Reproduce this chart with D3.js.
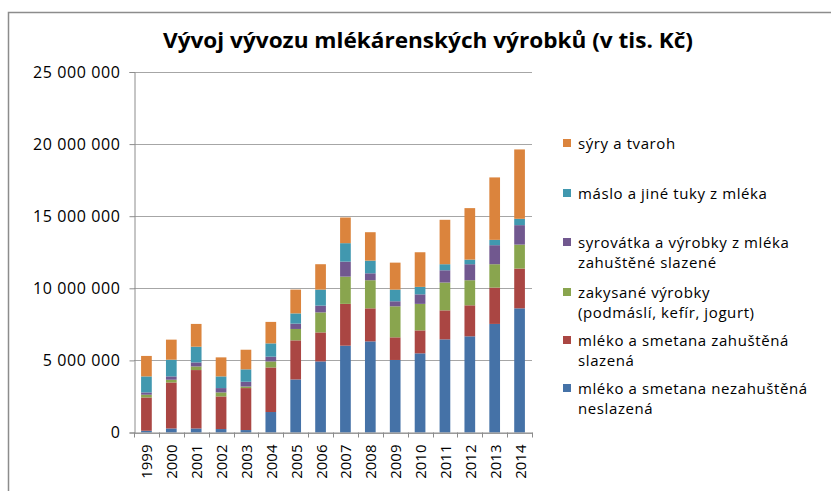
<!DOCTYPE html>
<html lang="cs">
<head>
<meta charset="UTF-8">
<title>Vývoj vývozu mlékárenských výrobků</title>
<script src="https://d3js.org/d3.v7.min.js"></script>
<style>
    * { margin: 0; padding: 0; }
    body { background: #fff; width: 831px; height: 491px; overflow: hidden; }
    svg text { font-family: "Open Sans", Arial, sans-serif; fill: #000; }
</style>
</head>
<body>
<svg id="chart" width="831" height="491"></svg>
<script>
// roky
const years = ["1999","2000","2001","2002","2003","2004","2005","2006","2007","2008","2009","2010","2011","2012","2013","2014"];

// hodnoty v tis. Kč
const mlekoNezahustene = [120000, 280000, 280000, 240000, 170000, 1420000, 3680000, 4930000, 6020000, 6320000, 5030000, 5490000, 6460000, 6670000, 7530000, 8610000];
const mlekoZahustene   = [2310000, 3190000, 4050000, 2260000, 2910000, 3090000, 2710000, 2010000, 2900000, 2290000, 1570000, 1590000, 2010000, 2150000, 2520000, 2760000];
const zakysane         = [190000, 190000, 250000, 280000, 110000, 420000, 790000, 1390000, 1890000, 1950000, 2150000, 1840000, 1930000, 1740000, 1620000, 1660000];
const syrovatka        = [160000, 230000, 280000, 300000, 330000, 330000, 370000, 470000, 1040000, 480000, 350000, 660000, 850000, 1110000, 1320000, 1350000];
const maslo            = [1110000, 1160000, 1090000, 810000, 860000, 920000, 710000, 1110000, 1280000, 880000, 810000, 520000, 420000, 320000, 370000, 440000];
const syry             = [1420000, 1390000, 1580000, 1320000, 1360000, 1490000, 1650000, 1760000, 1780000, 1970000, 1870000, 2400000, 3080000, 3570000, 4330000, 4810000];

const seriesNames = [
    "mléko a smetana nezahuštěná neslazená",
    "mléko a smetana zahuštěná slazená",
    "zakysané výrobky (podmáslí, kefír, jogurt)",
    "syrovátka a výrobky z mléka zahuštěné slazené",
    "máslo a jiné tuky z mléka",
    "sýry a tvaroh"
];
const seriesValues = [mlekoNezahustene, mlekoZahustene, zakysane, syrovatka, maslo, syry];
const colors = ["#4572A7", "#AA4643", "#89A54E", "#71588F", "#4198AF", "#DB843D"];

// legenda - řádky textu (shora dolů)
const legendLines = [
    ["sýry a tvaroh"],
    ["máslo a jiné tuky z mléka"],
    ["syrovátka a výrobky z mléka", "zahuštěné slazené"],
    ["zakysané výrobky", "(podmáslí, kefír,  jogurt)"],
    ["mléko a smetana zahuštěná", "slazená"],
    ["mléko a smetana nezahuštěná", "neslazená"]
];

const yTicks = [0, 5000000, 10000000, 15000000, 20000000, 25000000];

const svg = d3.select("#chart");

// rámeček grafu
svg.append("rect")
    .attr("x", 8.5).attr("y", 12.5)
    .attr("width", 900).attr("height", 600)
    .attr("fill", "none")
    .attr("stroke", "#8c8c8c")
    .attr("stroke-width", 1.5);

const margin = { left: 134, right: 532, top: 72, bottom: 432.5 };

const x = d3.scaleBand()
    .domain(years)
    .range([margin.left, margin.right])
    .paddingInner(0.57)
    .paddingOuter(0.285);

const y = d3.scaleLinear()
    .domain([0, 25000000])
    .range([margin.bottom, margin.top]);

// mřížka
svg.append("g")
    .selectAll("line")
    .data(yTicks)
    .join("line")
    .attr("x1", margin.left)
    .attr("x2", margin.right)
    .attr("y1", d => Math.round(y(d)) + 0.5)
    .attr("y2", d => Math.round(y(d)) + 0.5)
    .attr("stroke", "#a6a6a6")
    .attr("stroke-width", 1);

// data pro stack
const rows = years.map((yr, i) => {
    const r = { year: yr };
    seriesNames.forEach((n, k) => { r[n] = seriesValues[k][i]; });
    return r;
});
const stacked = d3.stack().keys(seriesNames)(rows);

svg.append("g")
    .selectAll("g")
    .data(stacked)
    .join("g")
    .attr("fill", (d, i) => colors[i])
    .selectAll("rect")
    .data(d => d)
    .join("rect")
    .attr("x", d => x(d.data.year))
    .attr("width", x.bandwidth())
    .attr("y", d => y(d[1]))
    .attr("height", d => y(d[0]) - y(d[1]));

// osa Y
const yAxis = svg.append("g")
    .attr("transform", `translate(${margin.left + 0.5},0)`)
    .call(d3.axisLeft(y).tickValues(yTicks).tickSize(5).tickPadding(9)
        .tickFormat(v => v === 0 ? "0" : d3.format(",")(v).replace(/,/g, " ")));
yAxis.select(".domain").attr("stroke", "#8c8c8c");
yAxis.selectAll(".tick line").attr("stroke", "#8c8c8c");
yAxis.selectAll(".tick text")
    .attr("font-size", 16)
    .attr("letter-spacing", 0.6)
    .attr("fill", "#000")
    .style("font-family", "'Open Sans', sans-serif");

// osa X
const xAxis = svg.append("g")
    .attr("transform", `translate(0,${margin.bottom})`)
    .call(d3.axisBottom(x).tickSize(0).tickPadding(0));
xAxis.select(".domain").attr("stroke", "#8c8c8c");
// značky mezi kategoriemi
xAxis.append("g")
    .selectAll("line")
    .data(d3.range(years.length + 1))
    .join("line")
    .attr("x1", i => Math.round(margin.left + i * x.step()) + 0.5)
    .attr("x2", i => Math.round(margin.left + i * x.step()) + 0.5)
    .attr("y1", 0).attr("y2", 5)
    .attr("stroke", "#8c8c8c");
xAxis.selectAll(".tick text")
    .attr("font-size", 15)
    .attr("fill", "#000")
    .attr("text-anchor", "end")
    .attr("dominant-baseline", "central")
    .attr("transform", "translate(0,12) rotate(-90)")
    .attr("x", 0).attr("y", 0).attr("dy", null)
    .style("font-family", "'Open Sans', sans-serif");

// titulek
svg.append("text")
    .attr("x", 428).attr("y", 48)
    .attr("text-anchor", "middle")
    .attr("font-size", 21)
    .attr("font-weight", "bold")
    .attr("textLength", 530)
    .attr("lengthAdjust", "spacingAndGlyphs")
    .text("Vývoj vývozu mlékárenských výrobků (v tis. Kč)");

// legenda
const legendY = [143, 193, 242, 292, 340, 388];
const leg = svg.append("g");
legendLines.forEach((lines, i) => {
    const ci = colors.length - 1 - i;
    leg.append("rect")
        .attr("x", 563).attr("y", legendY[i] - 4)
        .attr("width", 8).attr("height", 8)
        .attr("fill", colors[ci]);
    lines.forEach((t, j) => {
        leg.append("text")
            .attr("x", 578)
            .attr("y", legendY[i] + j * 20)
            .attr("dominant-baseline", "central")
            .attr("font-size", 15)
            .attr("letter-spacing", 0.6)
            .text(t);
    });
});
</script>
</body>
</html>
